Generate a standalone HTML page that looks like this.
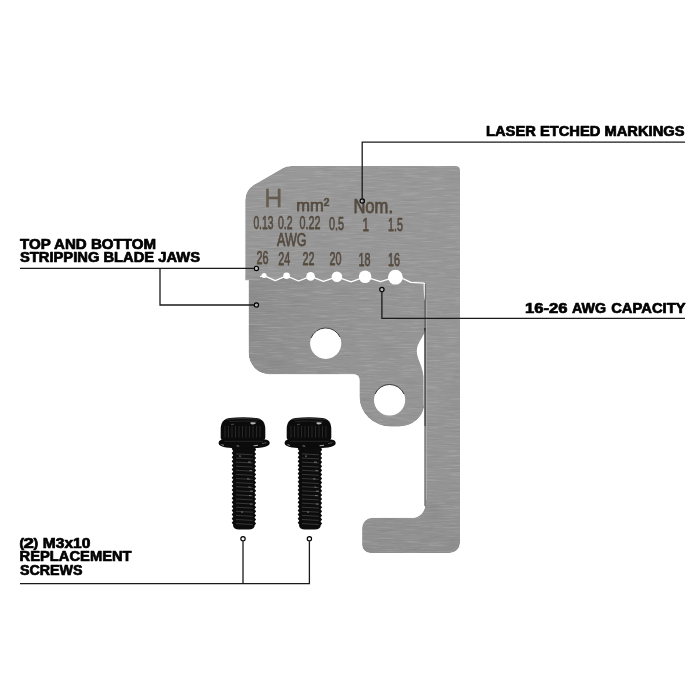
<!DOCTYPE html>
<html>
<head>
<meta charset="utf-8">
<title>Replacement Blade Set</title>
<style>
html,body{margin:0;padding:0;background:#fff;}
body{width:700px;height:700px;overflow:hidden;font-family:"Liberation Sans",sans-serif;}
svg{display:block;}
.lbl{font-family:"Liberation Sans",sans-serif;font-weight:bold;font-size:13.8px;fill:#000;stroke:#000;stroke-width:0.7;stroke-linejoin:round;}
.etch{font-family:"Liberation Sans",sans-serif;fill:#4c4034;stroke:#4c4034;stroke-width:0.75;stroke-linejoin:round;}
.ln{fill:none;stroke:#1a1a1a;stroke-width:1.3;}
.dot{fill:rgba(255,255,255,0.35);stroke:#000;stroke-width:1.2;}
</style>
</head>
<body>
<svg width="700" height="700" viewBox="0 0 700 700">
<defs>
  <filter id="brush" x="0" y="0" width="100%" height="100%">
    <feTurbulence type="fractalNoise" baseFrequency="0.045 0.7" numOctaves="3" seed="7" result="n"/>
    <feColorMatrix in="n" type="matrix" values="0 0 0 0 0  0 0 0 0 0  0 0 0 0 0  0.3 0 0 0 -0.15" result="a"/>
    <feFlood flood-color="#fff" result="w"/>
    <feComposite in="w" in2="a" operator="in" result="wl"/>
    <feColorMatrix in="n" type="matrix" values="0 0 0 0 0  0 0 0 0 0  0 0 0 0 0  0 -0.3 0 0 0.15" result="b"/>
    <feFlood flood-color="#000" result="k"/>
    <feComposite in="k" in2="b" operator="in" result="kl"/>
    <feMerge result="m"><feMergeNode in="SourceGraphic"/><feMergeNode in="wl"/><feMergeNode in="kl"/></feMerge>
    <feComposite in="m" in2="SourceGraphic" operator="in"/>
  </filter>
  <filter id="soft" x="-5%" y="-5%" width="110%" height="110%">
    <feGaussianBlur stdDeviation="0.45"/>
  </filter>
  <linearGradient id="pg" x1="0" y1="0" x2="0" y2="1">
    <stop offset="0" stop-color="#989898"/>
    <stop offset="0.35" stop-color="#969696"/>
    <stop offset="0.8" stop-color="#949494"/>
    <stop offset="1" stop-color="#8f8f8f"/>
  </linearGradient>
  <linearGradient id="lg" x1="0" y1="0" x2="1" y2="0">
    <stop offset="0" stop-color="#8d8d8d"/>
    <stop offset="0.45" stop-color="#939393"/>
    <stop offset="1" stop-color="#959595"/>
  </linearGradient>
</defs>

<!-- PLATE -->
<g id="plate">
  <path filter="url(#brush)" fill="url(#pg)" d="M245.2 280 L245.2 200 Q245.4 190.3 253.5 185 L283 168 Q286.5 165.9 291.5 165.9 L456 165.9 A4 4 0 0 1 460 169.9 L460 543 A10 10 0 0 1 450 553 L370 553 A8 8 0 0 1 362.1 545 L362.1 527.7 A10 10 0 0 1 372.1 517.7 L412.5 517.7 A12.5 12.5 0 0 0 425 505.2 L425 410 L424.2 404 A25.2 22.4 0 0 1 399 426.4 L390.6 426.4 A31 29.4 0 0 1 359.6 397 L359.6 380 Q359.6 374.2 353 374.2 L269.2 374.2 A21 21 0 0 1 248.7 353.2 L248.7 280 Z"/>
  <path filter="url(#brush)" fill="url(#lg)" d="M248.7 280 L264 277 L275.2 280.7 L286.6 275.8 L298.5 281 L310.6 276.4 L323.5 281.3 L336.9 276.8 L351 281.8 L365.1 276.8 L380.5 281.6 L395.4 277.2 L403.4 278.9 L410.9 282.3 L423.6 283.2 L424.2 404 A25.2 22.4 0 0 1 399 426.4 L390.6 426.4 A31 29.4 0 0 1 359.6 397 L359.6 380 Q359.6 374.2 353 374.2 L269.2 374.2 A21 21 0 0 1 248.7 353.2 Z"/>
</g>

<!-- seam / jaw line -->
<path d="M245.2 279.8 L260 279.6" stroke="#a8a8a8" stroke-width="0.8" fill="none"/>
<path d="M260.2 276.6 L264 275.6 L275.2 280.7 L286.6 275.8 L298.5 281 L310.6 276.4 L323.5 281.3 L336.9 276.8 L351 281.8 L365.1 276.8 L380.5 281.6 L395.4 277.2 L403.4 278.9 L410.9 282.3 L423.6 283.2" stroke="#fff" stroke-width="1.3" fill="none" stroke-linejoin="round"/>
<path d="M422.6 282.6 L425 282.9 L425 300 Q423.6 296 423.6 283.2 Z" fill="#fff"/>
<circle cx="264.1" cy="275.6" r="2.5" fill="#fff"/>
<circle cx="286.6" cy="275.8" r="3.3" fill="#fff"/>
<circle cx="310.6" cy="276.4" r="4.3" fill="#fff"/>
<circle cx="336.9" cy="276.8" r="5.3" fill="#fff"/>
<circle cx="365.1" cy="276.8" r="6.3" fill="#fff"/>
<circle cx="395.4" cy="277.2" r="7.4" fill="#fff"/>

<!-- gap between lower plate and bar -->
<path d="M425.2 330.5 C423.6 337 416.8 343 416.8 351 C416.8 359.5 422.2 364 423.5 376.5 L423.7 405 L425.2 411 Z" fill="#fff"/>
<path d="M425.3 284 L425.3 300" stroke="#6a6a6a" stroke-width="1" fill="none"/>
<path d="M425.1 300 L425.1 330" stroke="#4a4a4a" stroke-width="1.1" fill="none"/>
<path d="M425 328 L425 426" stroke="#1c1c1c" stroke-width="1.25" fill="none"/>
<path d="M424.9 426 L424.9 506" stroke="#5a5a5a" stroke-width="1" fill="none"/>
<path d="M426.4 300 L426.4 500" stroke="#b4b4b4" stroke-width="0.8" fill="none"/>

<!-- HOLES -->
<circle cx="325.7" cy="343.3" r="15.6" fill="#fff"/>
<path d="M311 338 A15.8 15.8 0 0 1 340 337" stroke="#333" stroke-width="1" fill="none"/>
<circle cx="389.6" cy="400" r="15.6" fill="#fff"/>
<path d="M375 394 A15.8 15.8 0 0 1 404 394" stroke="#333" stroke-width="1" fill="none"/>

<!-- ETCHED TEXT -->
<g class="etch" opacity="0.88" filter="url(#soft)">
  <text x="264.2" y="207.2" font-size="25" textLength="18.1" stroke-width="0.3" fill="#5e5244" stroke="#5e5244" lengthAdjust="spacingAndGlyphs">H</text>
  <text x="296.2" y="211.3" font-size="17" textLength="33" lengthAdjust="spacingAndGlyphs">mm²</text>
  <text x="353.4" y="212.6" font-size="19.4" textLength="39.6" lengthAdjust="spacingAndGlyphs">Nom.</text>
  <text x="253.4" y="228.7" font-size="18.5" textLength="20" lengthAdjust="spacingAndGlyphs">0.13</text>
  <text x="278" y="228.9" font-size="18.5" textLength="14.5" lengthAdjust="spacingAndGlyphs">0.2</text>
  <text x="299.6" y="229.2" font-size="18.5" textLength="21" lengthAdjust="spacingAndGlyphs">0.22</text>
  <text x="328.9" y="229.6" font-size="18.5" textLength="15" lengthAdjust="spacingAndGlyphs">0.5</text>
  <text x="362.6" y="230.5" font-size="18.5" textLength="6.5" lengthAdjust="spacingAndGlyphs">1</text>
  <text x="388" y="230.8" font-size="18.5" textLength="15" lengthAdjust="spacingAndGlyphs">1.5</text>
  <text x="277" y="246" font-size="17.8" textLength="29.5" lengthAdjust="spacingAndGlyphs">AWG</text>
  <text x="256.6" y="264.2" font-size="18.8" textLength="12" lengthAdjust="spacingAndGlyphs">26</text>
  <text x="278.3" y="264.5" font-size="18.8" textLength="12" lengthAdjust="spacingAndGlyphs">24</text>
  <text x="302.6" y="264.9" font-size="18.8" textLength="12" lengthAdjust="spacingAndGlyphs">22</text>
  <text x="329.4" y="265.3" font-size="18.8" textLength="12" lengthAdjust="spacingAndGlyphs">20</text>
  <text x="358.6" y="266.0" font-size="18.8" textLength="12" lengthAdjust="spacingAndGlyphs">18</text>
  <text x="388" y="266.3" font-size="18.8" textLength="12" lengthAdjust="spacingAndGlyphs">16</text>
</g>

<!-- SCREWS -->
<defs>
<g id="screw">
  <!-- shaft -->
  <path d="M233.5 446 L231.7 449.0 L233.3 451.1 L231.7 453.1 L233.3 455.2 L231.7 457.2 L233.3 459.2 L231.7 461.3 L233.3 463.4 L231.7 465.4 L233.3 467.4 L231.7 469.5 L233.3 471.6 L231.7 473.6 L233.3 475.7 L231.7 477.7 L233.3 479.8 L231.7 481.8 L233.3 483.9 L231.7 485.9 L233.3 487.9 L231.7 490.0 L233.3 492.1 L231.7 494.1 L233.3 496.2 L231.7 498.2 L233.3 500.2 L231.7 502.3 L233.3 504.4 L231.7 506.4 L233.3 508.4 L231.7 510.5 L233.3 512.5 L231.7 514.6 L233.3 516.6 L231.7 518.7 L233.3 520.8 L231.7 522.8 L233.3 524.8 L233.0 525.5 Q233.6 529.4 239.0 529.4 L248.8 529.4 Q254.2 529.4 254.8 525.5 L254.5 525.6 L256.1 523.6 L254.5 521.5 L256.1 519.5 L254.5 517.4 L256.1 515.4 L254.5 513.4 L256.1 511.3 L254.5 509.2 L256.1 507.2 L254.5 505.2 L256.1 503.1 L254.5 501.1 L256.1 499.0 L254.5 497.0 L256.1 494.9 L254.5 492.9 L256.1 490.8 L254.5 488.8 L256.1 486.7 L254.5 484.7 L256.1 482.6 L254.5 480.6 L256.1 478.5 L254.5 476.5 L256.1 474.4 L254.5 472.4 L256.1 470.3 L254.5 468.2 L256.1 466.2 L254.5 464.2 L256.1 462.1 L254.5 460.1 L256.1 458.0 L254.5 456.0 L256.1 453.9 L254.5 451.9 L256.1 449.8 L254.3 446 Z" fill="#0c0c0c"/>
<path d="M236.0 449.8 L252.8 450.7" stroke="#454545" stroke-width="0.75"/>
<path d="M236.0 453.9 L252.8 454.8" stroke="#454545" stroke-width="0.75"/>
<path d="M236.0 458.0 L252.8 458.9" stroke="#454545" stroke-width="0.75"/>
<path d="M236.0 462.1 L252.8 463.0" stroke="#454545" stroke-width="0.75"/>
<path d="M236.0 466.2 L252.8 467.1" stroke="#454545" stroke-width="0.75"/>
<path d="M236.0 470.3 L252.8 471.2" stroke="#454545" stroke-width="0.75"/>
<path d="M236.0 474.4 L252.8 475.3" stroke="#454545" stroke-width="0.75"/>
<path d="M236.0 478.5 L252.8 479.4" stroke="#454545" stroke-width="0.75"/>
<path d="M236.0 482.6 L252.8 483.5" stroke="#454545" stroke-width="0.75"/>
<path d="M236.0 486.7 L252.8 487.6" stroke="#454545" stroke-width="0.75"/>
<path d="M236.0 490.8 L252.8 491.7" stroke="#454545" stroke-width="0.75"/>
<path d="M236.0 494.9 L252.8 495.8" stroke="#454545" stroke-width="0.75"/>
<path d="M236.0 499.0 L252.8 499.9" stroke="#454545" stroke-width="0.75"/>
<path d="M236.0 503.1 L252.8 504.0" stroke="#454545" stroke-width="0.75"/>
<path d="M236.0 507.2 L252.8 508.1" stroke="#454545" stroke-width="0.75"/>
<path d="M236.0 511.3 L252.8 512.2" stroke="#454545" stroke-width="0.75"/>
<path d="M236.0 515.4 L252.8 516.3" stroke="#454545" stroke-width="0.75"/>
<path d="M236.0 519.5 L252.8 520.4" stroke="#454545" stroke-width="0.75"/>
<path d="M236.0 523.6 L252.8 524.5" stroke="#454545" stroke-width="0.75"/>
<path d="M248.0 462.0 L251.0 462.2" stroke="#8a8a8a" stroke-width="0.8"/>
<path d="M249.5 470.5 L252.0 470.7" stroke="#8a8a8a" stroke-width="0.8"/>
<path d="M250.0 491.0 L253.0 491.2" stroke="#8a8a8a" stroke-width="0.8"/>
<path d="M249.0 495.5 L251.5 495.7" stroke="#8a8a8a" stroke-width="0.8"/>
<path d="M250.0 504.0 L252.5 504.2" stroke="#8a8a8a" stroke-width="0.8"/>
<path d="M239.0 456.0 L241.0 456.2" stroke="#8a8a8a" stroke-width="0.8"/>
<path d="M247.0 478.8 L249.5 479.0" stroke="#8a8a8a" stroke-width="0.8"/>
<path d="M248.5 487.0 L250.5 487.2" stroke="#8a8a8a" stroke-width="0.8"/>
<path d="M241.0 512.0 L243.0 512.2" stroke="#8a8a8a" stroke-width="0.8"/>

  <!-- neck under washer -->
  <path d="M233.5 446 L254.3 446 L254.3 451 L233.5 451 Z" fill="#0c0c0c"/>
  <!-- head -->
  <path d="M220.7 437.5 L220.7 429.5 C220.7 422.5 223.4 419.2 229.5 418 Q243 416.3 256.5 418 C262.6 419.2 265.3 422.5 265.3 429.5 L265.3 437.5 Q265.3 440 263 440.2 L223 440.2 Q220.7 440 220.7 437.5 Z" fill="#0b0b0b"/>
  <path d="M226 419.3 Q243 417.6 260 419.3" stroke="#3c3c3c" stroke-width="0.8" fill="none"/>
  <path d="M229 421.6 Q243 420.4 257 421.6" stroke="#2c2c2c" stroke-width="0.7" fill="none"/>
  <path d="M225.0 426 L225.0 437.5" stroke="#2e2e2e" stroke-width="0.8"/>
<path d="M228.5 426 L228.5 437.5" stroke="#2e2e2e" stroke-width="0.8"/>
<path d="M232.0 426 L232.0 437.5" stroke="#2e2e2e" stroke-width="0.8"/>
<path d="M235.5 426 L235.5 437.5" stroke="#2e2e2e" stroke-width="0.8"/>
<path d="M239.0 426 L239.0 437.5" stroke="#2e2e2e" stroke-width="0.8"/>
<path d="M242.5 426 L242.5 437.5" stroke="#2e2e2e" stroke-width="0.8"/>
<path d="M246.0 426 L246.0 437.5" stroke="#2e2e2e" stroke-width="0.8"/>
<path d="M249.5 426 L249.5 437.5" stroke="#2e2e2e" stroke-width="0.8"/>
<path d="M253.0 426 L253.0 437.5" stroke="#2e2e2e" stroke-width="0.8"/>
<path d="M256.5 426 L256.5 437.5" stroke="#2e2e2e" stroke-width="0.8"/>
<path d="M260.0 426 L260.0 437.5" stroke="#2e2e2e" stroke-width="0.8"/>

  <path d="M250.3 422.6 Q253 421.6 256 422.8 Q255.5 424.6 252.5 424.6 Q250.2 424.4 250.3 422.6 Z" fill="#b8b8b8"/>
  <path d="M231 424.5 L234 424.2" stroke="#4a4a4a" stroke-width="1"/>
  <!-- washer -->
  <path d="M218.6 443.2 Q218.4 440.2 222.5 439.4 L265.5 439.4 Q269.9 440.2 269.7 443.2 Q269.5 446.3 262 447.4 Q243 449.4 226 447.4 Q218.8 446.3 218.6 443.2 Z" fill="#0b0b0b"/>
  <path d="M221.4 444.6 L224 445.4" stroke="#9a9a9a" stroke-width="0.9"/>
  <path d="M236.6 445.8 L239.2 446.2" stroke="#8a8a8a" stroke-width="0.9"/>
  <path d="M253.6 445.8 L258 445.2" stroke="#a8a8a8" stroke-width="1.1"/>
  <path d="M262 443.6 L266.5 442.6" stroke="#5a5a5a" stroke-width="0.8"/>
  <path d="M224 441.3 L263 441.3" stroke="#303030" stroke-width="0.7"/>
</g>
</defs>
<use href="#screw"/>
<use href="#screw" x="66"/>

<!-- CALLOUT LINES -->
<g class="ln">
  <path d="M685 142.2 L362.2 142.2 L362.2 198.6"/>
  <path d="M685 318.3 L381.9 318.3 L381.9 292"/>
  <path d="M20 268.4 L254 268.4"/>
  <path d="M160 268.4 L160 305 L254 305"/>
  <path d="M20 583.6 L309.4 583.6 L309.4 541.2"/>
  <path d="M243 583.6 L243 541.2"/>
</g>
<g class="dot">
  <circle cx="362.2" cy="201" r="2.15"/>
  <circle cx="381.9" cy="289.6" r="2.15"/>
  <circle cx="256.4" cy="268.4" r="2.15"/>
  <circle cx="256.4" cy="305" r="2.15"/>
  <circle cx="243" cy="538.8" r="2.15"/>
  <circle cx="309.4" cy="538.8" r="2.15"/>
</g>

<!-- LABELS -->
<g class="lbl" opacity="0.999">
  <text x="486" y="135.9" textLength="198.5" lengthAdjust="spacingAndGlyphs">LASER ETCHED MARKINGS</text>
  <text x="525" y="312.5" textLength="42.5" lengthAdjust="spacingAndGlyphs">16-26</text>
  <text x="572" y="312.5" textLength="34" lengthAdjust="spacingAndGlyphs">AWG</text>
  <text x="611.2" y="312.5" textLength="74.3" lengthAdjust="spacingAndGlyphs">CAPACITY</text>
  <text x="20" y="248.6" textLength="136" lengthAdjust="spacingAndGlyphs">TOP AND BOTTOM</text>
  <text x="20" y="262.4" textLength="180" lengthAdjust="spacingAndGlyphs">STRIPPING BLADE JAWS</text>
  <text x="19.4" y="547.3" font-size="12.6" textLength="4.6" lengthAdjust="spacingAndGlyphs">(</text>
  <text x="23.4" y="547.6" textLength="10.4" lengthAdjust="spacingAndGlyphs">2</text>
  <text x="33.4" y="547.3" font-size="12.6" textLength="4.6" lengthAdjust="spacingAndGlyphs">)</text>
  <text x="42.8" y="547.6" textLength="47.6" lengthAdjust="spacingAndGlyphs">M3x10</text>
  <text x="19.6" y="561.4" textLength="112" lengthAdjust="spacingAndGlyphs">REPLACEMENT</text>
  <text x="20" y="575.4" textLength="62.6" lengthAdjust="spacingAndGlyphs">SCREWS</text>
</g>

</svg>
</body>
</html>
